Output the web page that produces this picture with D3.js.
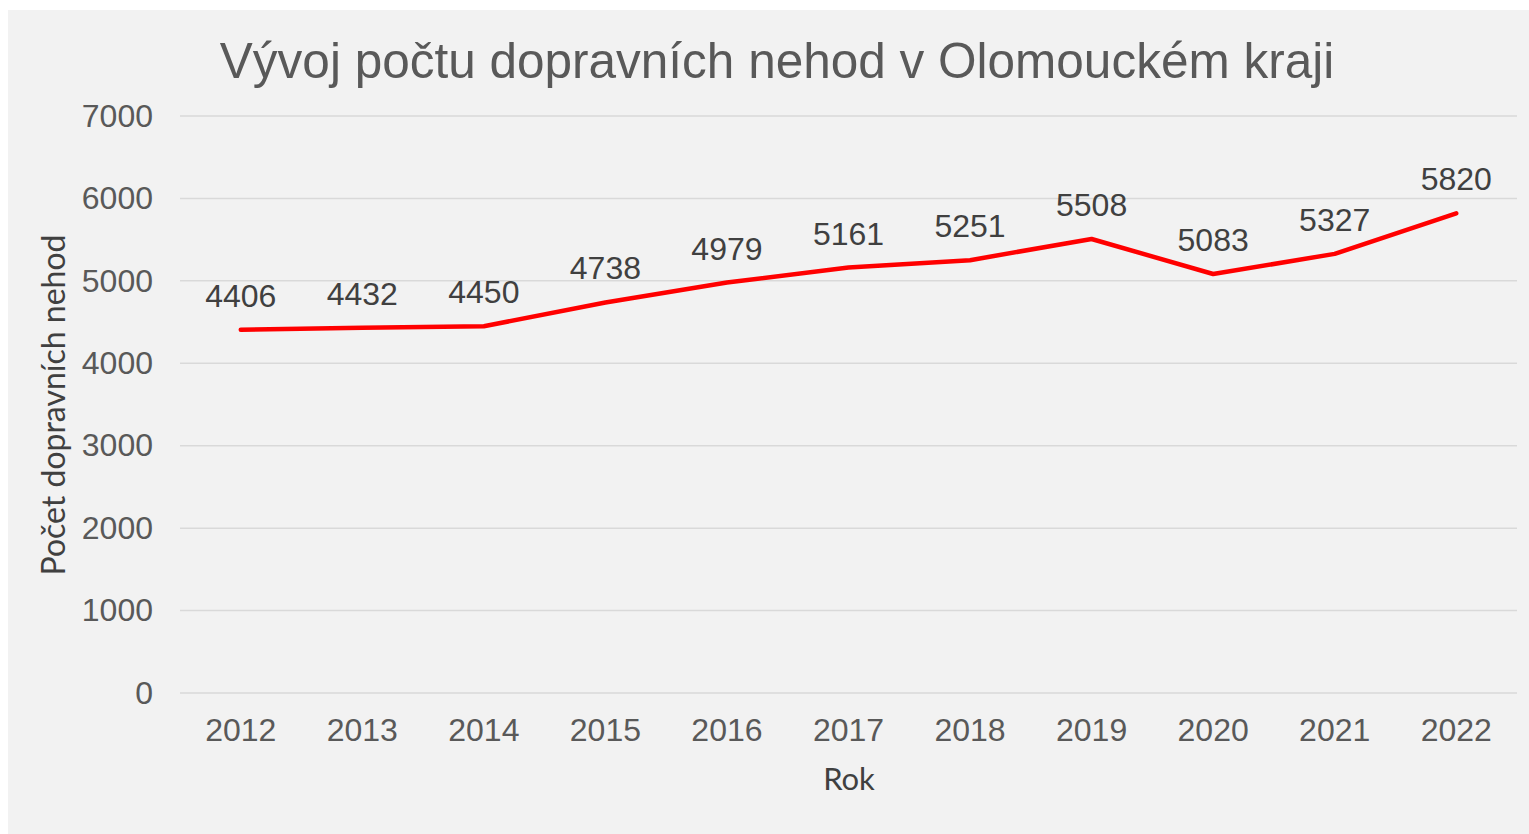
<!DOCTYPE html>
<html>
<head>
<meta charset="utf-8">
<script src="https://cdn.jsdelivr.net/npm/d3@7"></script>
<style>
  body { margin: 0; background: #fff; }
  svg { display: block; }
</style>
</head>
<body>
<svg id="chart"></svg>
<script>
const years = ["2012", "2013", "2014", "2015", "2016", "2017", "2018", "2019", "2020", "2021", "2022"];
const accidents = [4406, 4432, 4450, 4738, 4979, 5161, 5251, 5508, 5083, 5327, 5820];
const yTicks = [0, 1000, 2000, 3000, 4000, 5000, 6000, 7000];

const data = years.map((year, i) => ({ year, value: accidents[i] }));

const width = 1529;
const height = 834;
const margin = {top: 116, right: 12, bottom: 141, left: 180};

const svg = d3.select("#chart")
    .attr("width", width)
    .attr("height", height);

// chart area
svg.append("rect")
    .attr("x", 8).attr("y", 10)
    .attr("width", width - 8).attr("height", height - 10)
    .attr("fill", "#f2f2f2");

const x = d3.scaleBand()
    .domain(years)
    .range([margin.left, width - margin.right]);

const y = d3.scaleLinear()
    .domain([0, 7000])
    .range([height - margin.bottom, margin.top]);

const font = "'Liberation Sans', Arial, sans-serif";

// gridlines
svg.append("g")
    .selectAll("line")
    .data(yTicks)
    .join("line")
    .attr("x1", margin.left)
    .attr("x2", width - margin.right)
    .attr("y1", d => y(d))
    .attr("y2", d => y(d))
    .attr("stroke", "#d9d9d9")
    .attr("stroke-width", 1.5);

// y axis labels
const yAxis = g => g
    .attr("transform", `translate(${margin.left},0)`)
    .call(d3.axisLeft(y).tickValues(yTicks).tickFormat(d3.format("d")).tickSize(0).tickPadding(27))
    .call(g => g.select(".domain").remove())
    .call(g => g.selectAll("text")
        .attr("font-family", font)
        .attr("font-size", 32)
        .attr("fill", "#595959"));

// x axis labels
const xAxis = g => g
    .attr("transform", `translate(0,${height - margin.bottom})`)
    .call(d3.axisBottom(x).tickSize(0).tickPadding(25))
    .call(g => g.select(".domain").remove())
    .call(g => g.selectAll("text")
        .attr("font-family", font)
        .attr("font-size", 32)
        .attr("fill", "#595959"));

svg.append("g").call(yAxis);
svg.append("g").call(xAxis);

const cx = d => x(d.year) + x.bandwidth() / 2;

const line = d3.line()
    .x(cx)
    .y(d => y(d.value));

svg.append("path")
    .datum(data)
    .attr("fill", "none")
    .attr("stroke", "#ff0000")
    .attr("stroke-width", 4.5)
    .attr("stroke-linejoin", "round")
    .attr("stroke-linecap", "round")
    .attr("d", line);

// data labels
svg.append("g")
    .selectAll("text")
    .data(data)
    .join("text")
    .attr("x", cx)
    .attr("y", d => y(d.value) - 23)
    .attr("text-anchor", "middle")
    .attr("font-family", font)
    .attr("font-size", 32)
    .attr("fill", "#404040")
    .text(d => d.value);

// title
svg.append("text")
    .attr("x", 777)
    .attr("y", 78)
    .attr("text-anchor", "middle")
    .attr("font-family", font)
    .attr("font-size", 49.5)
    .attr("fill", "#595959")
    .text("Vývoj počtu dopravních nehod v Olomouckém kraji");

// axis titles
svg.append("text")
    .attr("x", 849)
    .attr("y", 790)
    .attr("text-anchor", "middle")
    .attr("font-family", "Lato, 'Open Sans', sans-serif")
    .attr("font-size", 31)
    .attr("fill", "#404040")
    .text("Rok");

svg.append("text")
    .attr("transform", "translate(65,405) rotate(-90)")
    .attr("text-anchor", "middle")
    .attr("font-family", "Lato, 'Open Sans', sans-serif")
    .attr("font-size", 32)
    .attr("fill", "#404040")
    .text("Počet dopravních nehod");
</script>
</body>
</html>
